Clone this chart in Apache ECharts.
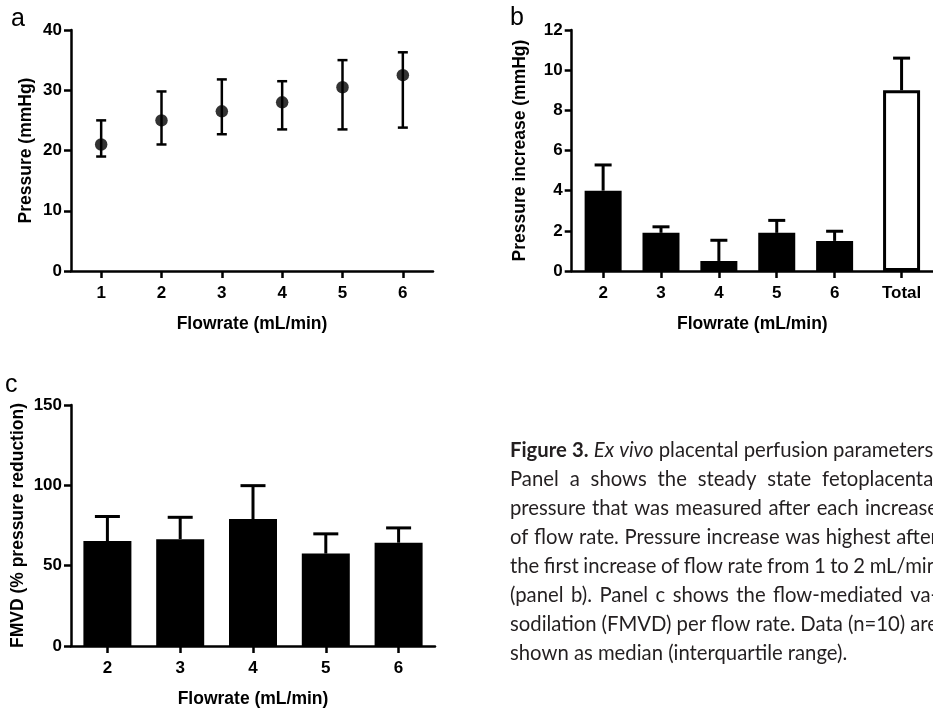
<!DOCTYPE html>
<html>
<head>
<meta charset="utf-8">
<script src="https://cdn.jsdelivr.net/npm/echarts@6/dist/echarts.min.js"></script>
<style>html,body{margin:0;padding:0;background:#fff}#chart{width:933px;height:709px}</style>
</head>
<body>
<div id="chart"></div>
<script>
// ---------- Panel a: steady-state pressure per flow rate (median, IQR) ----------
const aCategories = ['1', '2', '3', '4', '5', '6'];
const aMedian = [21, 25, 26.5, 28, 30.5, 32.5];
const aLower  = [19, 21, 22.7, 23.5, 23.5, 23.8];
const aUpper  = [25, 29.8, 31.8, 31.5, 35, 36.3];
const aYTicks = { min: 0, max: 40, interval: 10 };

// ---------- Panel b: pressure increase per flow-rate step ----------
const bCategories = ['2', '3', '4', '5', '6', 'Total'];
const bValues = [4.0, 1.9, 0.5, 1.9, 1.5, 9.0];
const bUpper  = [5.28, 2.2, 1.53, 2.52, 1.98, 10.6];
const bYTicks = { min: 0, max: 12, interval: 2 };

// ---------- Panel c: FMVD per flow rate ----------
const cCategories = ['2', '3', '4', '5', '6'];
const cValues = [65.3, 66.5, 79, 57.5, 64.3];
const cUpper  = [80.6, 80.1, 99.8, 69.8, 73.5];
const cYTicks = { min: 0, max: 150, interval: 50 };

const xAxisTitle = 'Flowrate (mL/min)';
const aYTitle = 'Pressure (mmHg)';
const bYTitle = 'Pressure increase (mmHg)';
const cYTitle = 'FMVD (% pressure reduction)';

const captionLines = [
  '**Figure** **3.** _Ex_ _vivo_ placental perfusion parameters.',
  'Panel a shows the steady state fetoplacental',
  'pressure that was measured after each increase',
  'of flow rate. Pressure increase was highest after',
  'the first increase of flow rate from 1 to 2 mL/min',
  '(panel b). Panel c shows the flow-mediated va-',
  'sodilation (FMVD) per flow rate. Data (n=10) are',
  'shown as median (interquartile range).'
];

// ---------- styling / layout ----------
const INK = '#000';
const LABEL_FONT = 'Liberation Sans, Arial, Helvetica, sans-serif';
const CAPTION_FONT = 'Lato, "Open Sans", sans-serif';
const TOTAL_GAP = 0.157; // extra spacing before the "Total" bar (fraction of a band)

const bPos = bCategories.map((c, i) => i + (c === 'Total' ? TOTAL_GAP : 0));
const bMin = -0.543, bMax = bPos[bPos.length - 1] + 0.543;

function axisLabelStyle(margin) {
  return { color: INK, fontFamily: LABEL_FONT, fontWeight: 'bold', fontSize: 17, margin: margin };
}
function nameStyle() {
  return { color: INK, fontFamily: LABEL_FONT, fontWeight: 'bold', fontSize: 17.5 };
}
const axisLine = { show: true, onZero: false, lineStyle: { color: INK, width: 2.5 } };
const axisTick = { show: true, length: 7, lineStyle: { color: INK, width: 2.5 } };

function yAxisCfg(idx, t, title, gap) {
  return {
    type: 'value', gridIndex: idx, min: t.min, max: t.max, interval: t.interval,
    axisLine: axisLine, axisTick: axisTick, splitLine: { show: false },
    axisLabel: axisLabelStyle(9),
    name: title, nameLocation: 'middle', nameGap: gap, nameRotate: 90,
    nameTextStyle: nameStyle()
  };
}

function errorRenderer(capHalf, lw, bothEnds) {
  return function (params, api) {
    const x = api.value(0), lo = api.value(1), hi = api.value(2);
    const pLo = api.coord([x, lo]);
    const pHi = api.coord([x, hi]);
    const st = { stroke: INK, lineWidth: lw, lineCap: 'butt' };
    const children = [
      { type: 'line', shape: { x1: pLo[0], y1: pLo[1], x2: pHi[0], y2: pHi[1] }, style: st },
      { type: 'line', shape: { x1: pHi[0] - capHalf, y1: pHi[1], x2: pHi[0] + capHalf, y2: pHi[1] }, style: st }
    ];
    if (bothEnds) {
      children.push({ type: 'line', shape: { x1: pLo[0] - capHalf, y1: pLo[1], x2: pLo[0] + capHalf, y2: pLo[1] }, style: st });
    }
    return { type: 'group', children: children };
  };
}

// ---------- caption layout (justified lines) ----------
const measureCtx = document.createElement('canvas').getContext('2d');
function parseWord(w) {
  if (w.startsWith('**') && w.endsWith('**')) return { t: w.slice(2, -2), weight: 'bold', style: 'normal' };
  if (w.startsWith('_') && w.endsWith('_')) return { t: w.slice(1, -1), weight: 'normal', style: 'italic' };
  return { t: w, weight: 'normal', style: 'normal' };
}
const CAP_SIZE = 20.3, CAP_X = 510, CAP_W = 428, CAP_Y0 = 450, CAP_LH = 29;
const captionGraphics = [];
captionLines.forEach((line, li) => {
  const words = line.split(' ').map(parseWord);
  words.forEach(w => {
    measureCtx.font = `${w.style} ${w.weight} ${CAP_SIZE}px ${CAPTION_FONT}`;
    w.w = measureCtx.measureText(w.t).width;
  });
  const total = words.reduce((s, w) => s + w.w, 0);
  measureCtx.font = `normal normal ${CAP_SIZE}px ${CAPTION_FONT}`;
  const natural = measureCtx.measureText(' ').width;
  const justify = li < captionLines.length - 1;
  const gap = justify ? Math.max(natural * 0.8, (CAP_W - total) / (words.length - 1)) : natural;
  let x = CAP_X;
  words.forEach(w => {
    captionGraphics.push({
      type: 'text', x: x, y: CAP_Y0 + li * CAP_LH, silent: true,
      style: {
        text: w.t, fill: '#231f20', fontFamily: CAPTION_FONT, fontSize: CAP_SIZE,
        fontWeight: w.weight, fontStyle: w.style, verticalAlign: 'middle', align: 'left'
      }
    });
    x += w.w + gap;
  });
});

const panelLetters = [
  { t: 'a', x: 11, y: 19 },
  { t: 'b', x: 510, y: 18 },
  { t: 'c', x: 5, y: 385 }
].map(p => ({
  type: 'text', x: p.x, y: p.y, silent: true,
  style: { text: p.t, fill: INK, fontFamily: LABEL_FONT, fontSize: 25, verticalAlign: 'middle' }
}));

const chart = echarts.init(document.getElementById('chart'), null, { renderer: 'canvas' });

const option = {
  backgroundColor: '#fff',
  animation: false,
  grid: [
    { left: 71, top: 30, width: 362, height: 241 },
    { left: 571.7, top: 30, width: (bMax - bMin) * 58.2, height: 241 },
    { left: 71, top: 405, width: 364, height: 241.7 }
  ],
  xAxis: [
    {
      type: 'category', gridIndex: 0, data: aCategories, boundaryGap: true,
      axisLine: axisLine, axisTick: Object.assign({ alignWithLabel: true }, axisTick),
      axisLabel: axisLabelStyle(13.5),
      name: xAxisTitle, nameLocation: 'middle', nameGap: 44, nameTextStyle: nameStyle()
    },
    {
      type: 'value', gridIndex: 1, min: bMin, max: bMax,
      axisLine: axisLine,
      axisTick: Object.assign({ customValues: bPos }, axisTick),
      splitLine: { show: false },
      axisLabel: Object.assign({
        customValues: bPos,
        formatter: function (v) {
          const i = bPos.findIndex(p => Math.abs(p - v) < 1e-6);
          return i >= 0 ? bCategories[i] : '';
        }
      }, axisLabelStyle(13.5)),
      name: xAxisTitle, nameLocation: 'middle', nameGap: 44, nameTextStyle: nameStyle()
    },
    {
      type: 'category', gridIndex: 2, data: cCategories, boundaryGap: true,
      axisLine: axisLine, axisTick: Object.assign({ alignWithLabel: true }, axisTick),
      axisLabel: axisLabelStyle(13.5),
      name: xAxisTitle, nameLocation: 'middle', nameGap: 44, nameTextStyle: nameStyle()
    }
  ],
  yAxis: [
    yAxisCfg(0, aYTicks, aYTitle, 36),
    yAxisCfg(1, bYTicks, bYTitle, 42.5),
    yAxisCfg(2, cYTicks, cYTitle, 44)
  ],
  series: [
    // panel a
    {
      type: 'custom', xAxisIndex: 0, yAxisIndex: 0, z: 2,
      renderItem: errorRenderer(5, 2.5, true),
      encode: { x: 0, y: [1, 2] },
      data: aCategories.map((c, i) => [i, aLower[i], aUpper[i]])
    },
    {
      type: 'scatter', xAxisIndex: 0, yAxisIndex: 0, z: 3,
      symbol: 'circle', symbolSize: 12.5, itemStyle: { color: INK },
      data: aMedian
    },
    // panel b
    {
      type: 'custom', xAxisIndex: 1, yAxisIndex: 1, z: 1,
      renderItem: errorRenderer(8.5, 3, false),
      encode: { x: 0, y: [1, 2] },
      data: bCategories.map((c, i) => [bPos[i], bValues[i], bUpper[i]])
    },
    {
      type: 'bar', xAxisIndex: 1, yAxisIndex: 1, z: 2, barWidth: 37,
      itemStyle: { color: INK },
      data: bCategories.map((c, i) => c === 'Total'
        ? { value: [bPos[i], bValues[i]], itemStyle: { color: '#fff', borderColor: INK, borderWidth: 3 } }
        : { value: [bPos[i], bValues[i]] })
    },
    // panel c
    {
      type: 'custom', xAxisIndex: 2, yAxisIndex: 2, z: 1,
      renderItem: errorRenderer(12.5, 3, false),
      encode: { x: 0, y: [1, 2] },
      data: cCategories.map((c, i) => [i, cValues[i], cUpper[i]])
    },
    {
      type: 'bar', xAxisIndex: 2, yAxisIndex: 2, z: 2, barWidth: 48,
      itemStyle: { color: INK },
      data: cValues
    }
  ],
  graphic: panelLetters.concat(captionGraphics)
};

chart.setOption(option);
</script>
</body>
</html>
